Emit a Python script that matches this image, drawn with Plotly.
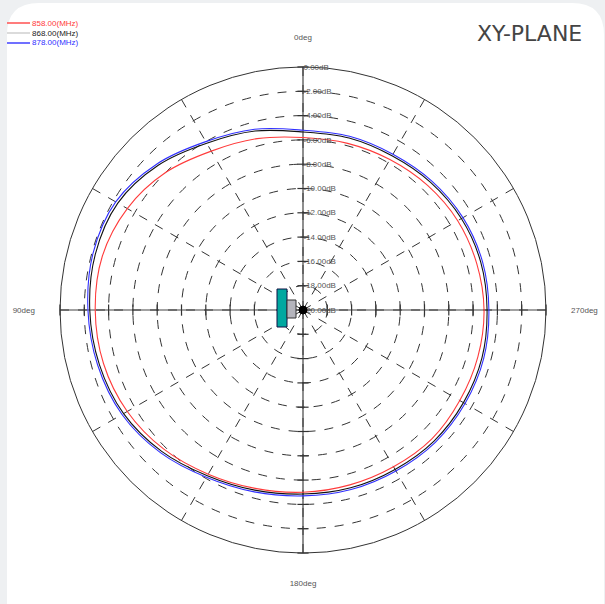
import plotly.graph_objects as go

# ---------------- data ----------------
theta_deg = [0, 15, 30, 45, 60, 75, 90, 105, 120, 135, 150, 165,
             180, 195, 210, 225, 240, 255, 270, 285, 300, 315, 330, 345]
red_db = [-5.8, -5.4, -4.9, -4.0, -3.3, -2.9, -2.9, -3.0, -3.3, -3.8, -4.4, -4.8,
          -5.0, -5.1, -5.1, -5.0, -5.1, -5.1, -5.1, -5.2, -5.3, -5.5, -5.7, -5.8]
black_db = [-5.35, -4.75, -4.15, -3.15, -2.4, -2.3, -2.45, -2.65, -2.95, -3.55, -4.25, -4.65,
            -4.85, -4.85, -4.85, -4.75, -4.75, -4.75, -4.85, -4.85, -4.95, -5.15, -5.35, -5.35]
blue_db = [-5.2, -4.6, -4.0, -3.0, -2.2, -2.1, -2.3, -2.5, -2.8, -3.4, -4.1, -4.5,
           -4.7, -4.7, -4.7, -4.6, -4.6, -4.6, -4.7, -4.7, -4.8, -5.0, -5.2, -5.2]
series_names = ["858.00(MHz)", "868.00(MHz)", "878.00(MHz)"]
series_colors = ["#ff3b3b", "#111111", "#3030ff"]
legend_line_colors = ["#ff5050", "#cfcfcf", "#4040ff"]
legend_text_colors = ["#ff3b3b", "#222222", "#3030ff"]

ring_vals = [-20, -18, -16, -14, -12, -10, -8, -6, -4, -2, 0]
ring_labels = ["-20.00dB", "-18.00dB", "-16.00dB", "-14.00dB", "-12.00dB", "-10.00dB",
               "-8.00dB", "-6.00dB", "-4.00dB", "-2.00dB", "0.00dB"]
angle_vals = [0, 30, 60, 90, 120, 150, 180, 210, 240, 270, 300, 330]
angle_labels = ["0deg", "", "", "90deg", "", "", "180deg", "", "", "270deg", "", ""]
title_text = "XY-PLANE"

W, H = 605, 604
cx, cy, R = 303, 310, 243

def px(x):
    return x / W

def py(y):
    return 1 - y / H

fig = go.Figure()

# solid cross axes
rmin, rmax = ring_vals[0], ring_vals[-1]
fig.add_trace(go.Scatterpolar(r=[rmax, rmin, rmax], theta=[0, 0, 180], mode="lines",
                              line=dict(color="#444", width=1.2), showlegend=False, hoverinfo="skip"))
fig.add_trace(go.Scatterpolar(r=[rmax, rmin, rmax], theta=[90, 90, 270], mode="lines",
                              line=dict(color="#444", width=1.2), showlegend=False, hoverinfo="skip"))
# tick marks on the cross
for th, sym in [(0, "line-ew"), (180, "line-ew"), (90, "line-ns"), (270, "line-ns")]:
    fig.add_trace(go.Scatterpolar(r=ring_vals[1:], theta=[th] * (len(ring_vals) - 1), mode="markers",
                                  marker=dict(symbol=sym, size=8, line=dict(color="#333", width=1.2)),
                                  showlegend=False, hoverinfo="skip"))

for i in [1, 0, 2]:
    vals = [red_db, black_db, blue_db][i]
    fig.add_trace(go.Scatterpolar(
        r=vals + [vals[0]], theta=theta_deg + [theta_deg[0]], mode="lines",
        line=dict(color=series_colors[i], width=1.1, shape="spline"),
        name=series_names[i], showlegend=False,
    ))

fig.update_layout(
    width=W, height=H,
    margin=dict(l=0, r=0, t=0, b=0),
    paper_bgcolor="#eef0f2",
    plot_bgcolor="rgba(0,0,0,0)",
    font=dict(family="Liberation Sans, Arial", size=8, color="#444"),
    showlegend=False,
    polar=dict(
        domain=dict(x=[px(cx - R), px(cx + R)], y=[py(cy + R), py(cy - R)]),
        bgcolor="rgba(0,0,0,0)",
        radialaxis=dict(range=[rmin, rmax], tickvals=ring_vals, ticktext=ring_labels,
                        angle=90, tickangle=90, side="clockwise",
                        showline=False, ticks="", gridcolor="#333", griddash="dash",
                        gridwidth=1, tickfont=dict(size=8, color="#555")),
        angularaxis=dict(rotation=90, direction="counterclockwise",
                         tickvals=angle_vals, ticktext=angle_labels,
                         showline=True, linecolor="#333", linewidth=1,
                         gridcolor="#333", griddash="dash", gridwidth=1,
                         ticks="outside", ticklen=23, tickcolor="rgba(0,0,0,0)",
                         tickfont=dict(size=8, color="#555")),
    ),
)

# card background
x0, y0, x1, y1, rr = 7, 3, 604, 640, 32
path = (f"M {px(x0)} {py(y0 + rr)} Q {px(x0)} {py(y0)} {px(x0 + rr)} {py(y0)} "
        f"L {px(x1 - rr)} {py(y0)} Q {px(x1)} {py(y0)} {px(x1)} {py(y0 + rr)} "
        f"L {px(x1)} {py(y1)} L {px(x0)} {py(y1)} Z")
fig.add_shape(type="path", xref="paper", yref="paper", path=path,
              fillcolor="white", line=dict(width=0), layer="below")

# antenna icon and centre dot
fig.add_shape(type="rect", xref="paper", yref="paper", x0=px(277), x1=px(287), y0=py(327), y1=py(289),
              fillcolor="#00a8a0", line=dict(color="#114", width=1), layer="above")
fig.add_shape(type="rect", xref="paper", yref="paper", x0=px(287), x1=px(296), y0=py(318), y1=py(300),
              fillcolor="#b4b4bc", line=dict(color="#333", width=1), layer="above")
fig.add_shape(type="circle", xref="paper", yref="paper", x0=px(cx - 4), x1=px(cx + 4), y0=py(cy + 4), y1=py(cy - 4),
              fillcolor="#000", line=dict(color="#000", width=1), layer="above")

# compact legend
for k in range(3):
    ly = 23 + 10 * k
    fig.add_shape(type="line", xref="paper", yref="paper", x0=px(7), x1=px(30), y0=py(ly), y1=py(ly),
                  line=dict(color=legend_line_colors[k], width=1.5), layer="above")
    fig.add_annotation(text=series_names[k], xref="paper", yref="paper", x=px(30), y=py(ly),
                       xanchor="left", yanchor="middle", showarrow=False,
                       font=dict(family="Liberation Sans, Arial", size=8, color=legend_text_colors[k]))

fig.add_annotation(text=title_text, xref="paper", yref="paper", x=px(584), y=py(33),
                   xanchor="right", yanchor="middle", showarrow=False,
                   font=dict(family="DejaVu Sans", size=22, color="#444"))

fig.write_html("out.html", config={"displayModeBar": False},
               post_script="document.body.style.margin='0';document.body.style.background='#eef0f2';")
